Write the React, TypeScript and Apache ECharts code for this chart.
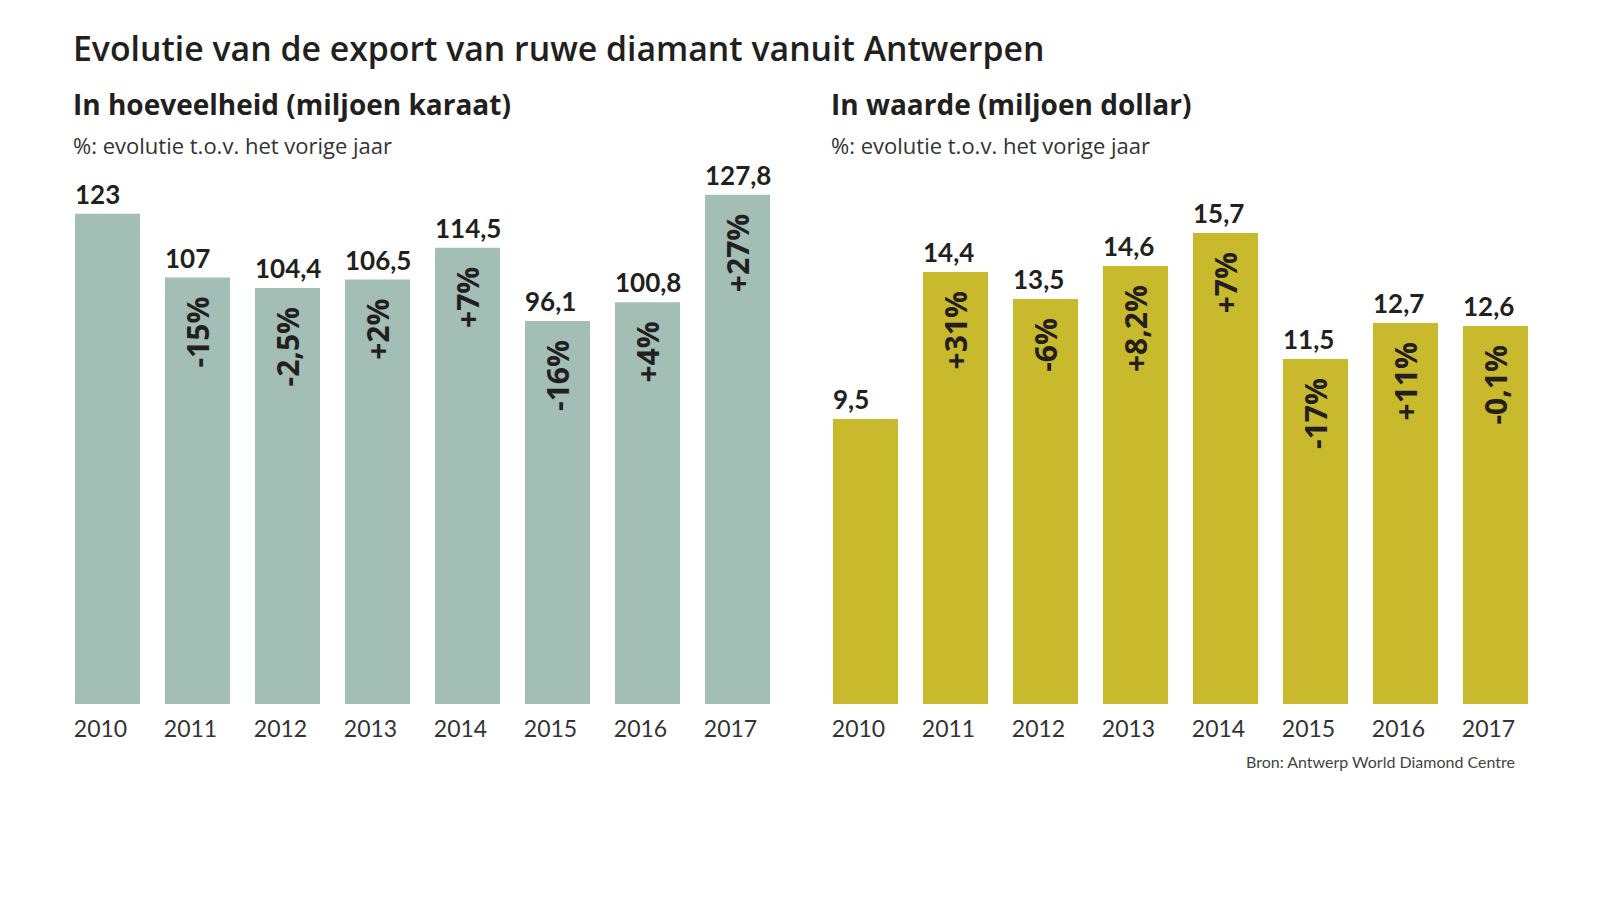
import React, { useEffect, useRef } from "react";
import * as echarts from "echarts";

const years = ["2010", "2011", "2012", "2013", "2014", "2015", "2016", "2017"];
const quantity = [123, 107, 104.4, 106.5, 114.5, 96.1, 100.8, 127.8];
const quantityChange: (number | null)[] = [null, -15, -2.5, 2, 7, -16, 4, 27];
const valueUsd = [9.5, 14.4, 13.5, 14.6, 15.7, 11.5, 12.7, 12.6];
const valueChange: (number | null)[] = [null, 31, -6, 8.2, 7, -17, 11, -0.1];

const FONT = "Lato";
const HFONT = "Open Sans";
const TEXT = "#231f20";

const fmtNum = (v: number) => String(v).replace(".", ",");
const fmtPct = (v: number | null) =>
  v === null ? "" : (v > 0 ? "+" : "") + String(v).replace(".", ",") + "%";

export default function App() {
  const ref = useRef<HTMLDivElement>(null);
  useEffect(() => {
    if (!ref.current) return;
    document.body.style.margin = "0";
    const chart = echarts.init(ref.current, null, { renderer: "svg" });

    const barSeries = (
      idx: number,
      data: number[],
      changes: (number | null)[],
      color: string
    ) => [
      {
        type: "bar",
        xAxisIndex: idx,
        yAxisIndex: idx,
        data,
        barWidth: 65,
        itemStyle: { color },
        label: {
          show: true,
          position: "insideTop",
          distance: 19,
          rotate: 90,
          align: "right",
          verticalAlign: "middle",
          formatter: (p: any) => fmtPct(changes[p.dataIndex]),
          fontFamily: HFONT,
          fontWeight: "bold",
          fontSize: 30,
          color: TEXT,
        },
      },
      {
        type: "bar",
        xAxisIndex: idx,
        yAxisIndex: idx,
        data,
        barWidth: 65,
        barGap: "-100%",
        itemStyle: { color: "transparent" },
        silent: true,
        label: {
          show: true,
          position: [0, -7],
          align: "left",
          verticalAlign: "bottom",
          formatter: (p: any) => fmtNum(p.value),
          fontFamily: FONT,
          fontWeight: "bold",
          fontSize: 26,
          color: TEXT,
        },
      },
    ];

    const xAxis = (gridIndex: number) => ({
      type: "category",
      gridIndex,
      data: years,
      axisLine: { show: false },
      axisTick: { show: false },
      axisLabel: {
        margin: 12,
        padding: [0, 14, 0, 0],
        fontFamily: FONT,
        fontSize: 23,
        color: "#333",
      },
    });

    const yAxis = (gridIndex: number, max: number) => ({
      type: "value",
      gridIndex,
      min: 0,
      max,
      show: false,
      splitLine: { show: false },
    });

    const text = (
      x: number,
      y: number,
      t: string,
      size: number,
      weight: string | number,
      fill: string,
      font = HFONT,
      align = "left"
    ) => ({
      type: "text",
      x,
      y,
      style: {
        text: t,
        fontFamily: font,
        fontSize: size,
        fontWeight: weight,
        fill,
        align,
        verticalAlign: "middle",
      },
    });

    chart.setOption({
      animation: false,
      backgroundColor: "#ffffff",
      grid: [
        { left: 62.5, width: 720, top: 146, height: 558 },
        { left: 820.5, width: 720, top: 164, height: 540 },
      ],
      xAxis: [xAxis(0), xAxis(1)],
      yAxis: [yAxis(0, 140), yAxis(1, 18)],
      series: [
        ...barSeries(0, quantity, quantityChange, "#a3bfb5"),
        ...barSeries(1, valueUsd, valueChange, "#c9b92c"),
      ],
      graphic: [
        text(73, 48, "Evolutie van de export van ruwe diamant vanuit Antwerpen", 33.8, 600, TEXT),
        text(73, 104, "In hoeveelheid (miljoen karaat)", 28, "bold", TEXT),
        text(831, 104, "In waarde (miljoen dollar)", 28, "bold", TEXT),
        text(73, 145, "%: evolutie t.o.v. het vorige jaar", 22, "normal", "#333"),
        text(831, 145, "%: evolutie t.o.v. het vorige jaar", 22, "normal", "#333"),
        text(1515, 761, "Bron: Antwerp World Diamond Centre", 16, "normal", "#444", FONT, "right"),
      ],
    });
    return () => chart.dispose();
  }, []);
  return (
    <div
      ref={ref}
      style={{ position: "fixed", left: 0, top: 0, width: 1600, height: 900 }}
    />
  );
}
